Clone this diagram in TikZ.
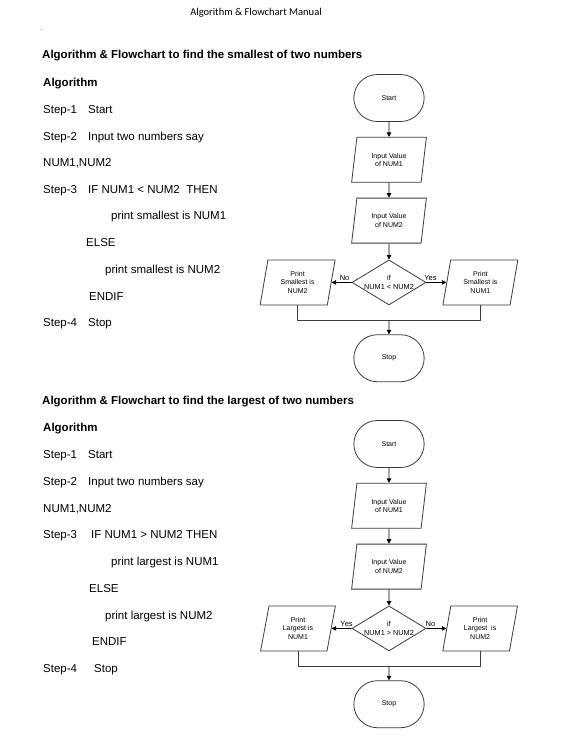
\documentclass[tikz,border=0pt]{standalone}
\usepackage{fontspec}
\setmainfont{Liberation Sans}
\newfontfamily\hdrfont{Carlito}
\usetikzlibrary{shapes.geometric,shapes.misc,arrows.meta,positioning}
\definecolor{edge}{HTML}{3A3A3A}
\newcommand{\steptab}[2][45pt]{\makebox[#1][l]{#2}}

\begin{document}
\begin{tikzpicture}[x=1pt,y=-1pt,
    node distance=15pt,
    txt/.style={anchor=base west,inner sep=0pt,font=\fontsize{11.5}{14}\selectfont},
    heading/.style={txt,font=\fontsize{11.5}{14}\selectfont\bfseries},
    term/.style={draw=edge,line width=0.8pt,rounded rectangle,minimum width=77pt,minimum height=47pt,font=\fontsize{7}{8.5}\selectfont},
    io/.style={draw=edge,line width=0.8pt,trapezium,trapezium left angle=79,trapezium right angle=101,trapezium stretches=true,minimum width=75pt,minimum height=45pt,align=center,inner sep=1pt,font=\fontsize{7}{8.5}\selectfont},
    decision/.style={draw=edge,line width=0.8pt,diamond,aspect=1.64,minimum width=74pt,minimum height=45pt,inner sep=0pt,align=center,font=\fontsize{7.3}{8.5}\selectfont},
    arrow/.style={-{Triangle[length=4.5pt,width=4.5pt]},line width=0.8pt},
    link/.style={line width=0.8pt,edge},
    lbl/.style={font=\fontsize{7.5}{8}\selectfont,inner sep=1pt}
  ]
  \useasboundingbox (0,0) rectangle (572,749);

  % page head
  \node[font=\hdrfont\fontsize{10.5}{12}\selectfont] (pghead) at (256,13) {Algorithm \& Flowchart Manual};
  \node[anchor=base west,inner sep=0pt,font=\tiny] (dots) at (40,31) {..};

  % smallest of two numbers
  \node[heading] (ttl1) at (42,59) {Algorithm \& Flowchart to find the smallest of two numbers};
  \node[heading] (alg1) at (43,86.4) {Algorithm};
  \node[txt] (s1a) at (43,113.4) {\steptab{Step-1}Start};
  \node[txt] (s1b) at (43,140.1) {\steptab{Step-2}Input two numbers say};
  \node[txt] (s1c) at (43,166.4) {NUM1,NUM2};
  \node[txt] (s1d) at (43,193.1) {\steptab{Step-3}IF NUM1 < NUM2\ \ THEN};
  \node[txt] (s1e) at (111,219.8) {print smallest is NUM1};
  \node[txt] (s1f) at (86,246.4) {ELSE};
  \node[txt] (s1g) at (105,273.4) {print smallest is NUM2};
  \node[txt] (s1h) at (89,300.1) {ENDIF};
  \node[txt] (s1i) at (43,326.4) {\steptab{Step-4}Stop};

  \node[term] (start1) at (389,98) {Start};
  \node[io,below=of start1] (in1a) {Input Value\\of NUM1};
  \node[io,below=of in1a] (in1b) {Input Value\\of NUM2};
  \node[decision,below=16pt of in1b] (cmp1) {if\\\makebox[0pt]{NUM1 < NUM2}};
  \node[io,left=20pt of cmp1] (no1) {Print\\Smallest is\\NUM2};
  \node[io,right=20pt of cmp1] (yes1) {Print\\Smallest is\\NUM1};
  \coordinate[below=15pt of cmp1] (join1);
  \node[term,below=29pt of cmp1] (stop1) {Stop};
  \draw[arrow] (start1) -- (in1a);
  \draw[arrow] (in1a) -- (in1b);
  \draw[arrow] (in1b) -- (cmp1);
  \draw[arrow] (cmp1) -- node[lbl,above,pos=0.35] {No} (no1);
  \draw[arrow] (cmp1) -- node[lbl,above,pos=0.2] {Yes} (yes1);
  \draw[link] (no1) |- (join1) -| (yes1);
  \draw[arrow] (join1) -- (stop1);

  % largest of two numbers
  \node[heading] (ttl2) at (42,404.1) {Algorithm \& Flowchart to find the largest of two numbers};
  \node[heading] (alg2) at (43,431.4) {Algorithm};
  \node[txt] (s2a) at (43,458.4) {\steptab{Step-1}Start};
  \node[txt] (s2b) at (43,485.8) {\steptab{Step-2}Input two numbers say};
  \node[txt] (s2c) at (43,512.4) {NUM1,NUM2};
  \node[txt] (s2d) at (43,538.4) {\steptab[48pt]{Step-3}IF NUM1 > NUM2 THEN};
  \node[txt] (s2e) at (111,565.8) {print largest is NUM1};
  \node[txt] (s2f) at (89,592.4) {ELSE};
  \node[txt] (s2g) at (105,619.1) {print largest is NUM2};
  \node[txt] (s2h) at (92,645.8) {ENDIF};
  \node[txt] (s2i) at (43,672.4) {\steptab[51pt]{Step-4}Stop};

  \node[term] (start2) at (389,444) {Start};
  \node[io,below=of start2] (in2a) {Input Value\\of NUM1};
  \node[io,below=of in2a] (in2b) {Input Value\\of NUM2};
  \node[decision,below=16pt of in2b] (cmp2) {if\\\makebox[0pt]{NUM1 > NUM2}};
  \node[io,left=20pt of cmp2] (yes2) {Print\\Largest is\\NUM1};
  \node[io,right=20pt of cmp2] (no2) {Print\\Largest\ \ is\\NUM2};
  \coordinate[below=15pt of cmp2] (join2);
  \node[term,below=29pt of cmp2] (stop2) {Stop};
  \draw[arrow] (start2) -- (in2a);
  \draw[arrow] (in2a) -- (in2b);
  \draw[arrow] (in2b) -- (cmp2);
  \draw[arrow] (cmp2) -- node[lbl,above,pos=0.25] {Yes} (yes2);
  \draw[arrow] (cmp2) -- node[lbl,above,pos=0.2] {No} (no2);
  \draw[link] (yes2) |- (join2) -| (no2);
  \draw[arrow] (join2) -- (stop2);
\end{tikzpicture}
\end{document}
